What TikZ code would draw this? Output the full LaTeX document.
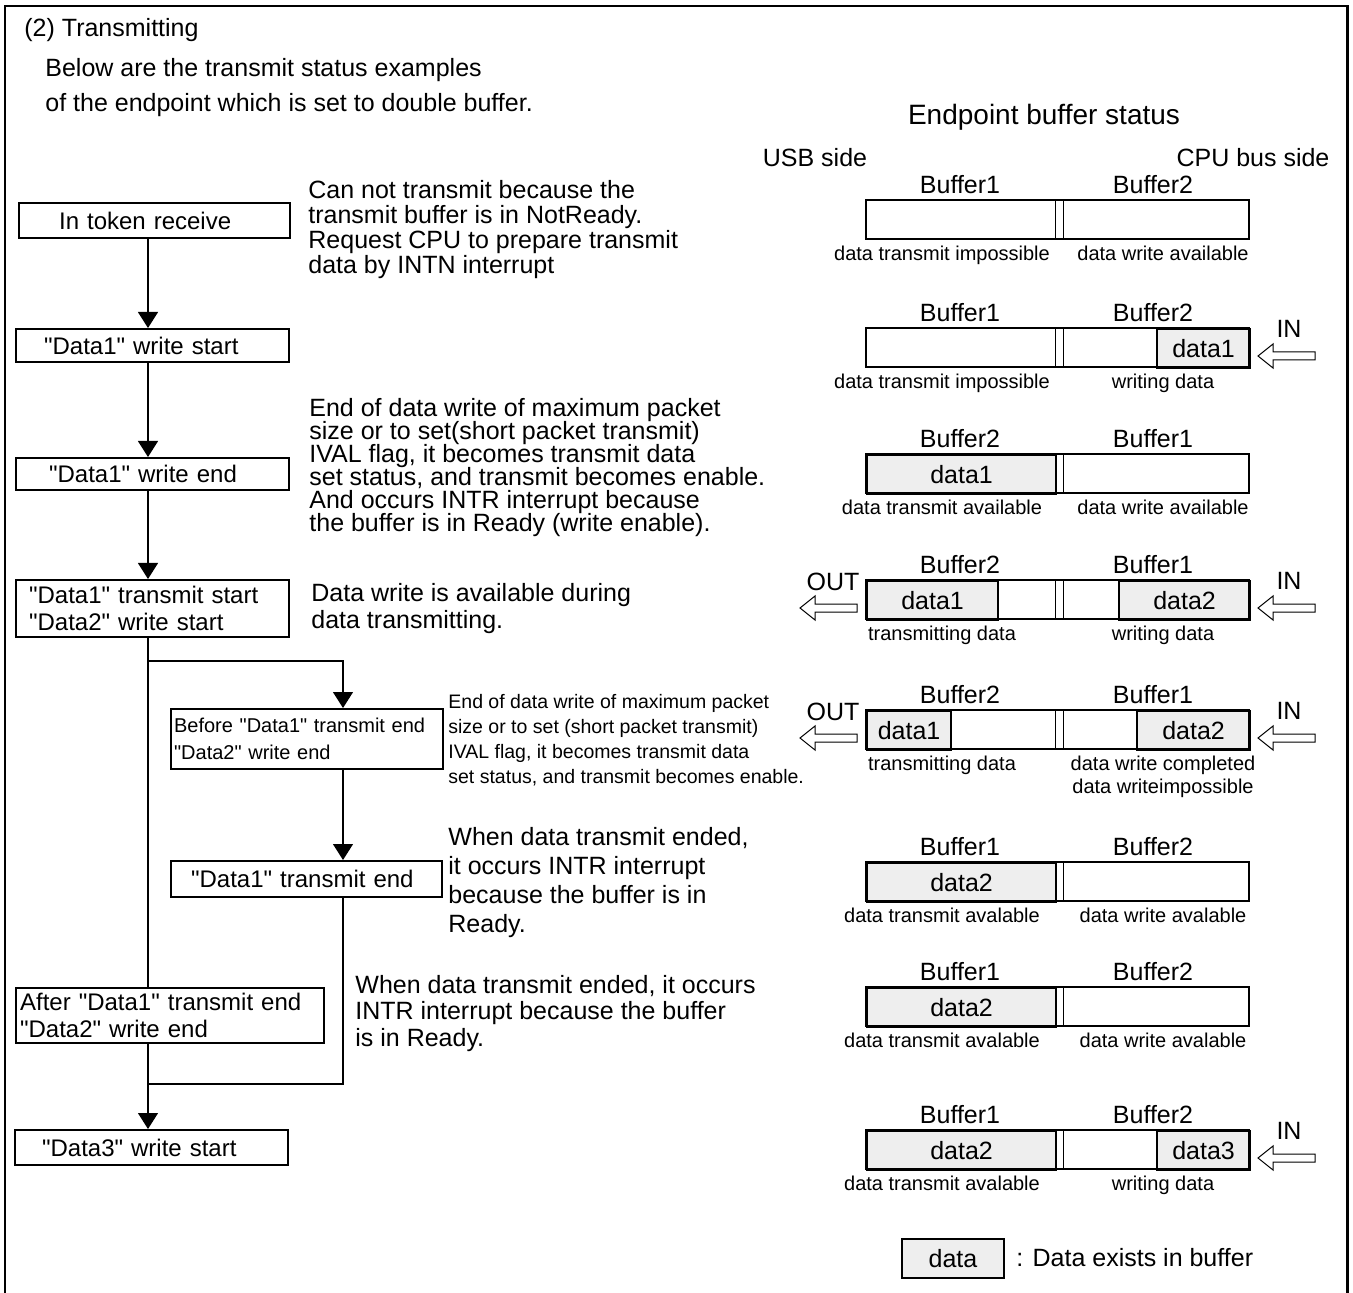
\documentclass[tikz,border=0pt]{standalone}
\usepackage{fontspec}
\setmainfont{Liberation Sans}
\usetikzlibrary{arrows.meta}
\definecolor{cellgray}{RGB}{238,238,238}

\newcommand{\dquote}{\textquotedbl}
% hollow arrow pointing left, tip at (#1,#2)
\newcommand{\hollowarrow}[2]{%
  \draw[hollow] (#1,#2) -- ++(15,-12) -- ++(0,8) -- ++(42,0) -- ++(0,8)
    -- ++(-42,0) -- ++(0,8) -- cycle;}

\tikzset{
  flowbox/.style={draw, line width=1.1pt, inner ysep=0pt, align=left,
    anchor=north west, font=\fontsize{12}{13.5}\selectfont},
  note/.style={anchor=west, inner sep=0pt, align=left,
    font=\fontsize{12.5}{#1}\selectfont},
  note/.default=12.5pt,
  flow/.style={line width=0.6pt},
  flowarrow/.style={line width=0.6pt, -{Triangle[width=10pt,length=8pt]}},
  bufrect/.style={draw, line width=1.1pt},
  divider/.style={line width=0.5pt},
  datacell/.style={draw, line width=1.1pt, fill=cellgray, inner sep=0pt,
    font=\fontsize{12.5}{14}\selectfont},
  buflabel/.style={inner sep=0pt, font=\fontsize{12.5}{14}\selectfont},
  statelabel/.style={anchor=north, inner sep=0pt, align=center,
    font=\fontsize{10}{11.5}\selectfont},
  hollow/.style={draw, line width=0.5pt, fill=white},
}

\begin{document}
\lineskiplimit=-20pt
\begin{tikzpicture}[x=0.5pt, y=-0.5pt]
  \useasboundingbox (0,0) rectangle (1353,1293);

  % frame
  \draw[line width=1.25pt] (5,1293) -- (5,6) -- (1347.5,6) -- (1347.5,1293);

  \node[note, font=\fontsize{12.5}{14}\selectfont] (title) at (24,30) {(2) Transmitting};
  \node[note=17.5pt] (intro) at (45,88) {Below are the transmit status examples\\of the endpoint which is set to double buffer.};

  % flow chart
  \coordinate (spine) at (148,0);
  \coordinate (sub) at (343,0);
  \coordinate (fork) at (148,661);
  \coordinate (join) at (148,1084);

  \node[flowbox, text width=95.5pt, inner xsep=20pt, minimum height=17.5pt] (tokrx) at (18,202) {In token receive};
  \node[flowbox, text width=108.5pt, inner xsep=14pt, minimum height=16.5pt] (wrstart) at (15,328) {\dquote{}Data1\dquote{} write start};
  \node[flowbox, text width=103.5pt, inner xsep=16.5pt, minimum height=16pt] (wrend) at (15,457) {\dquote{}Data1\dquote{} write end};
  \node[flowbox, text width=123.5pt, inner xsep=6.5pt, minimum height=28.5pt] (txstart) at (15,579) {\dquote{}Data1\dquote{} transmit start\\\dquote{}Data2\dquote{} write start};
  \node[flowbox, text width=133pt, inner xsep=1.5pt, minimum height=30pt, font=\fontsize{10}{13.5}\selectfont] (before) at (170,708) {Before \dquote{}Data1\dquote{} transmit end\\\dquote{}Data2\dquote{} write end};
  \node[flowbox, text width=115.5pt, inner xsep=10pt, minimum height=18pt] (txend) at (170,860) {\dquote{}Data1\dquote{} transmit end};
  \node[flowbox, text width=150pt, inner xsep=2pt, minimum height=27.5pt] (after) at (15,987) {After \dquote{}Data1\dquote{} transmit end\\\dquote{}Data2\dquote{} write end};
  \node[flowbox, text width=109.5pt, inner xsep=13.5pt, minimum height=17.5pt] (wr3) at (14,1129) {\dquote{}Data3\dquote{} write start};

  \draw[flowarrow] (tokrx.south -| spine) -- (wrstart.north -| spine);
  \draw[flowarrow] (wrstart.south -| spine) -- (wrend.north -| spine);
  \draw[flowarrow] (wrend.south -| spine) -- (txstart.north -| spine);
  \draw[flow] (txstart.south -| spine) -- (after.north -| spine);
  \draw[flowarrow] (fork) -| (before.north -| sub);
  \draw[flowarrow] (before.south -| sub) -- (txend.north -| sub);
  \draw[flow] (txend.south -| sub) |- (join);
  \draw[flowarrow] (after.south -| spine) -- (wr3.north -| spine);

  % notes beside the flow
  \node[note] (cannot) at (308,230) {Can not transmit because the\\transmit buffer is in NotReady.\\Request CPU to prepare transmit\\data by INTN interrupt};
  \node[note=11.5pt] (setstatus) at (309,468) {End of data write of maximum packet\\size or to set(short packet transmit)\\IVAL flag, it becomes transmit data\\set status, and transmit becomes enable.\\And occurs INTR interrupt because\\the buffer is in Ready (write enable).};
  \node[note=13.5pt] (during) at (311,609) {Data write is available during\\data transmitting.};
  \node[note, font=\fontsize{9.75}{12.5}\selectfont] (setstatus2) at (448,740) {End of data write of maximum packet\\size or to set (short packet transmit)\\IVAL flag, it becomes transmit data\\set status, and transmit becomes enable.};
  \node[note=14.5pt] (ended1) at (448,883) {When data transmit ended,\\it occurs INTR interrupt\\because the buffer is in\\Ready.};
  \node[note=13.25pt] (ended2) at (355,1013.5) {When data transmit ended, it occurs\\INTR interrupt because the buffer\\is in Ready.};

  % buffer status
  \node[buflabel, font=\fontsize{14}{16}\selectfont] (heading) at (1044,117) {Endpoint buffer status};
  \node[buflabel] (usbside) at (815,158) {USB side};
  \node[buflabel] (cpuside) at (1253,158) {CPU bus side};

  \foreach \top/\xa/\xb/\txt [count=\i] in {328/1156/1249/data1, 454/866/1055/data1,
      580/866/997/data1, 580/1118/1249/data2, 710/866/950/data1, 710/1136/1249/data2,
      862/866/1055/data2, 987/866/1055/data2, 1130/866/1055/data2, 1130/1156/1249/data3}
    \node[datacell, anchor=north west, minimum width={(\xb-\xa)*0.5pt},
      minimum height=19.5pt] (cell\i) at (\xa,\top) {\txt};

  \foreach \r/\top/\la/\lb/\sa/\sb in {
      1/200/Buffer1/Buffer2/{data transmit impossible}/{data write available},
      2/328/Buffer1/Buffer2/{data transmit impossible}/{writing data},
      3/454/Buffer2/Buffer1/{data transmit available}/{data write available},
      4/580/Buffer2/Buffer1/{transmitting data}/{writing data},
      5/710/Buffer2/Buffer1/{transmitting data}/{data write completed\\data writeimpossible},
      6/862/Buffer1/Buffer2/{data transmit avalable}/{data write avalable},
      7/987/Buffer1/Buffer2/{data transmit avalable}/{data write avalable},
      8/1130/Buffer1/Buffer2/{data transmit avalable}/{writing data}}
  {
    \draw[bufrect] (866,\top) rectangle (1249,\top+39);
    \draw[divider] (1055,\top) -- (1055,\top+39) (1063,\top) -- (1063,\top+39);
    \node[buflabel] (bufa\r) at (960,\top-15) {\la};
    \node[buflabel] (bufb\r) at (1153,\top-15) {\lb};
    \node[statelabel] (sta\r) at (942,\top+46) {\sa};
    \node[statelabel] (stb\r) at (1163,\top+46) {\sb};
  }

  % transfer arrows
  \foreach \top [count=\i] in {328,580,710,1130} {
    \node[buflabel] (in\i) at (1289,\top+1) {IN};
    \hollowarrow{1258}{\top+28}
  }
  \foreach \top [count=\i] in {580,710} {
    \node[buflabel] (out\i) at (833,\top+2) {OUT};
    \hollowarrow{800}{\top+28}
  }

  % legend
  \node[datacell, minimum width=51pt, minimum height=19.5pt] (legcell) at (953,1258.5) {data};
  \node[note] (legtext) at (1016,1258) {: Data exists in buffer};
\end{tikzpicture}
\end{document}
